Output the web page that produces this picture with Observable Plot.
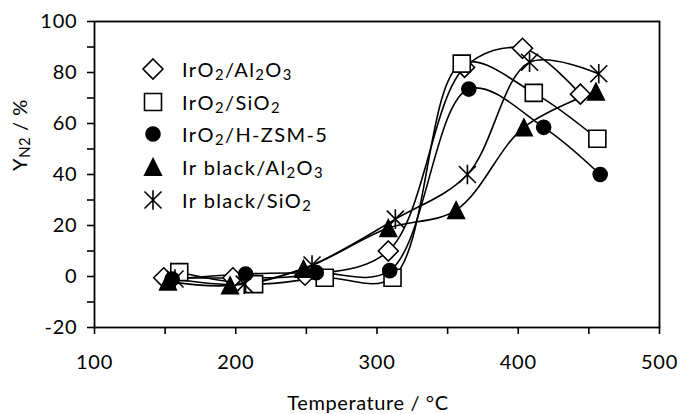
<!DOCTYPE html>
<html><head><meta charset="utf-8">
<script src="https://cdn.jsdelivr.net/npm/d3@7"></script>
<script src="https://cdn.jsdelivr.net/npm/@observablehq/plot@0.6"></script>
<style>
body{margin:0;background:#fff;}
#wrap{position:relative;width:681px;height:414px;font-family:Lato,sans-serif;color:#000;}
#wrap svg text{letter-spacing:0.8px}
#legend{position:absolute;left:140px;top:52.6px;font-size:20px;line-height:1;letter-spacing:1.4px}
.row{display:flex;align-items:center;height:32.7px;}
.row svg{width:26px;height:26px;margin-right:16px;flex:none;overflow:visible}
sub{font-size:0.74em;vertical-align:-0.22em;line-height:0}
#ylab{position:absolute;left:19px;top:135px;transform:translate(-50%,-50%) rotate(-90deg);font-size:20px;white-space:nowrap;letter-spacing:0.6px}
#xlab{position:absolute;left:368px;top:402px;transform:translate(-50%,-50%);font-size:20px;white-space:nowrap;letter-spacing:0.6px}
</style></head>
<body>
<div id="wrap"></div>
<script>
// Series data (Temperature / °C, Y_N2 / %)
const names = ["IrO2/Al2O3", "IrO2/SiO2", "IrO2/H-ZSM-5", "Ir black/Al2O3", "Ir black/SiO2"];
const labelsHTML = ["IrO<sub>2</sub>/Al<sub>2</sub>O<sub>3</sub>", "IrO<sub>2</sub>/SiO<sub>2</sub>", "IrO<sub>2</sub>/H-ZSM-5", "Ir black/Al<sub>2</sub>O<sub>3</sub>", "Ir black/SiO<sub>2</sub>"];
const T_IrO2_Al2O3 = [149, 198, 249, 308, 362, 403, 444];
const Y_IrO2_Al2O3 = [-0.5, -0.5, 0.5, 10, 82, 89.5, 71.5];
const T_IrO2_SiO2 = [160, 213, 263, 311, 360, 411, 456];
const Y_IrO2_SiO2 = [1.7, -3, -0.5, -0.5, 83.5, 72, 54];
const T_IrO2_HZSM5 = [155, 207, 257, 309, 365, 418, 458];
const Y_IrO2_HZSM5 = [-1, 1, 1.5, 2.3, 73.5, 58.5, 40];
const T_Ir_Al2O3 = [152, 196, 248, 308, 356, 404, 455];
const Y_Ir_Al2O3 = [-2, -3.5, 3, 19, 26, 58.5, 72.5];
const T_Ir_SiO2 = [157, 206, 254, 313, 364, 408, 457];
const Y_Ir_SiO2 = [-1, -3, 4.5, 22.5, 40, 84, 79.5];

const xTicks = d3.range(100, 501, 50);
const xLabels = d3.range(100, 501, 100);
const yTicks = d3.range(-20, 101, 10);
const yLabels = d3.range(-20, 101, 20);

// marker shapes
const R = s => Math.sqrt(s / Math.PI);
const symDiamond = {draw(c, s){const r=R(s); c.moveTo(0,-r); c.lineTo(r,0); c.lineTo(0,r); c.lineTo(-r,0); c.closePath();}};
const symSquare = {draw(c, s){const r=R(s); c.moveTo(-r,-r); c.lineTo(r,-r); c.lineTo(r,r); c.lineTo(-r,r); c.closePath();}};
const symCircle = {draw(c, s){const r=R(s); c.moveTo(r,0); c.arc(0,0,r,0,2*Math.PI);}};
const symTriangle = {draw(c, s){const r=R(s); c.moveTo(0,-r); c.lineTo(r,r); c.lineTo(-r,r); c.closePath();}};
const symStar = {draw(c, s){const r=R(s); c.moveTo(-r,-r); c.lineTo(r,r); c.moveTo(r,-r); c.lineTo(-r,r); c.moveTo(0,-r*1.15); c.lineTo(0,r*1.15);}};

const series = [
  {T: T_IrO2_Al2O3, Y: Y_IrO2_Al2O3, symbol: symDiamond, r: 10, fill: "white"},
  {T: T_IrO2_SiO2, Y: Y_IrO2_SiO2, symbol: symSquare, r: 8.5, fill: "white"},
  {T: T_IrO2_HZSM5, Y: Y_IrO2_HZSM5, symbol: symCircle, r: 7, fill: "black"},
  {T: T_Ir_Al2O3, Y: Y_Ir_Al2O3, symbol: symTriangle, r: 8.3, fill: "black"},
  {T: T_Ir_SiO2, Y: Y_Ir_SiO2, symbol: symStar, r: 8.5, fill: "none"}
];

const marks = [];
series.forEach(s => {
  const data = s.T.map((t, i) => ({t, y: s.Y[i]}));
  marks.push(Plot.line(data, {x: "t", y: "y", curve: "catmull-rom", stroke: "black", strokeWidth: 1.6}));
});
series.forEach(s => {
  const data = s.T.map((t, i) => ({t, y: s.Y[i]}));
  marks.push(Plot.dot(data, {x: "t", y: "y", symbol: s.symbol, r: s.r, fill: s.fill, stroke: "black", strokeWidth: 1.6}));
});

const fmt = d => String(d);

const chart = Plot.plot({
  width: 681, height: 414,
  marginLeft: 94, marginRight: 22, marginTop: 21, marginBottom: 87,
  style: {fontFamily: "Lato, sans-serif", fontSize: "20px", color: "black", background: "white"},
  x: {domain: [100, 500], label: null},
  y: {domain: [-20, 100], label: null},
  marks: [
    ...marks,
    Plot.axisX({ticks: xTicks, tickSize: 7, tickFormat: () => "", strokeWidth: 1.6, label: null}),
    Plot.axisX({ticks: xLabels, tickSize: 0, tickPadding: 27, fontSize: 20, tickFormat: fmt, label: null}),
    Plot.axisY({ticks: yTicks, tickSize: 7, tickFormat: () => "", strokeWidth: 1.6, label: null}),
    Plot.axisY({ticks: yLabels, tickSize: 0, tickPadding: 17, fontSize: 20, tickFormat: fmt, label: null}),
    Plot.frame({stroke: "black", strokeWidth: 1.8})
  ]
});

const wrap = document.getElementById("wrap");
wrap.appendChild(chart);

const leg = document.createElement("div");
leg.id = "legend";
series.forEach((s, i) => {
  const row = document.createElement("div");
  row.className = "row";
  const svg = d3.create("svg").attr("viewBox", "-13 -13 26 26");
  svg.append("path").attr("d", d3.symbol(s.symbol, s.r * s.r * Math.PI)())
    .attr("fill", s.fill).attr("stroke", "black").attr("stroke-width", 1.6);
  row.appendChild(svg.node());
  const span = document.createElement("span");
  span.innerHTML = labelsHTML[i];
  row.appendChild(span);
  leg.appendChild(row);
});
wrap.appendChild(leg);

const yl = document.createElement("div");
yl.id = "ylab";
yl.innerHTML = "Y<sub>N2</sub> / %";
wrap.appendChild(yl);
const xl = document.createElement("div");
xl.id = "xlab";
xl.textContent = "Temperature / °C";
wrap.appendChild(xl);
</script>
</body></html>
